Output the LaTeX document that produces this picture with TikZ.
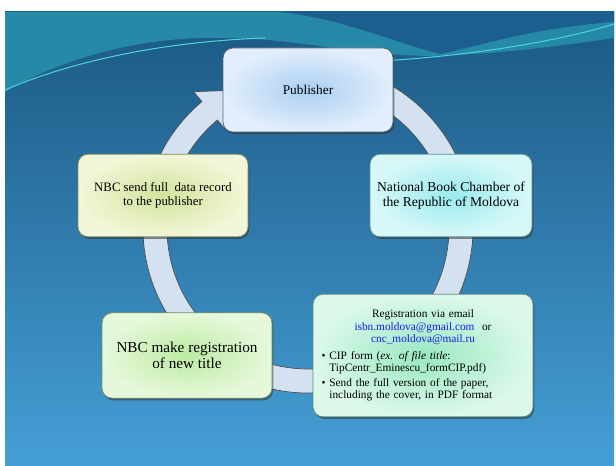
\documentclass[tikz,border=0pt]{standalone}
\usepackage{fontspec}
\setmainfont{Liberation Serif}
\usetikzlibrary{shadows}

\definecolor{slidetop}{HTML}{1B5883}
\definecolor{slidebot}{HTML}{459FD6}
\definecolor{waveteal}{HTML}{2689A8}
\definecolor{wavedark}{HTML}{1C5E8D}
\definecolor{waveline}{HTML}{4AD2D8}
\definecolor{ringfill}{HTML}{D3E1F1}
\definecolor{maillink}{HTML}{1A1AF0}
\definecolor{pubin}{HTML}{ABCFF3}\definecolor{pubout}{HTML}{E2EEFB}
\definecolor{nbcin}{HTML}{9AEAED}\definecolor{nbcout}{HTML}{D8F8F8}
\definecolor{sendin}{HTML}{D3E39C}\definecolor{sendout}{HTML}{F1F6D8}
\definecolor{makein}{HTML}{BDEBA1}\definecolor{makeout}{HTML}{E6F8DB}
\definecolor{regin}{HTML}{98E9C1}\definecolor{regout}{HTML}{DCF8EB}

\begin{document}
\begin{tikzpicture}[x=0.75pt, y=0.75pt,
    stage/.style={rounded corners=7.5pt, align=center, inner sep=4pt, draw=#1, line width=0.6pt,
      drop shadow={shadow xshift=1pt, shadow yshift=-1.6pt, opacity=0.55, fill=black!80}}]
  \useasboundingbox (0,0) rectangle (616,466);
  % slide background
  \shade[top color=slidetop, bottom color=slidebot] (5,0) rectangle (614,454);
  \fill[waveteal] (5,454) -- (614,454) -- (614,428) .. controls (560,420) and (500,412) .. (430,410)
    .. controls (330,412) and (300,430) .. (200,428) .. controls (110,425) and (40,395) .. (5,374) -- cycle;
  \fill[wavedark] (280,454) .. controls (340,448) and (390,425) .. (440,412)
    .. controls (480,420) and (530,438) .. (614,444) -- (614,454) -- cycle;
  \draw[waveline, line width=0.8pt] (5,376) .. controls (60,400) and (150,424) .. (265,428);
  \draw[waveline, line width=0.8pt] (380,405) .. controls (470,410) and (560,425) .. (614,442);
  % circular arrow
  \begin{scope}[shift={(308,238)}]
    \filldraw[fill=ringfill, draw=black!70, line width=0.5pt]
      (75:165) arc[start angle=75, end angle=-230, radius=165]
      -- (-230:178) -- (-247:150) -- (-230:130) -- (-230:141)
      arc[start angle=-230, end angle=75, radius=141] -- cycle;
  \end{scope}
  % stages
  \node[stage=pubin!50!black, inner color=pubin, outer color=pubout, minimum width=127.5pt, minimum height=63pt,
    font=\fontsize{10}{11}\selectfont] (pub) at (308,376) {Publisher};
  \node[stage=nbcin!60!black, inner color=nbcin, outer color=nbcout, minimum width=121.5pt, minimum height=62pt,
    font=\fontsize{10.2}{11}\selectfont] (nbc) at (451,270.5) {National Book Chamber of\\the Republic of Moldova};
  \node[stage=sendin!60!black, inner color=sendin, outer color=sendout, minimum width=127.5pt, minimum height=62pt,
    font=\fontsize{9.6}{10.5}\selectfont] (send) at (163,270.5) {NBC send full\ \ data record\\to the publisher};
  \node[stage=makein!60!black, inner color=makein, outer color=makeout, minimum width=127.5pt, minimum height=64pt,
    font=\fontsize{11.4}{12}\selectfont] (make) at (187,110.5) {NBC make registration\\of new title};
  \node[stage=regin!60!black, inner color=regin, outer color=regout, minimum width=165pt, minimum height=92pt,
    text width=152pt, inner xsep=6pt, font=\fontsize{8.5}{9.2}\selectfont] (reg) at (423,110.5) {%
    \centering Registration via email\\
    \textcolor{maillink}{isbn.moldova@gmail.com}\ \ or\\
    \textcolor{maillink}{cnc\_moldova@mail.ru}\par\vspace{3.5pt}
    \raggedright
    \textbullet\ CIP form (\textit{ex. of file title}:\\
    \phantom{\textbullet\ }TipCentr\_Eminescu\_formCIP.pdf)\par\vspace{2pt}
    \textbullet\ Send the full version of the paper,\\
    \phantom{\textbullet\ }including the cover, in PDF format\par\vspace{8pt}};
\end{tikzpicture}
\end{document}
